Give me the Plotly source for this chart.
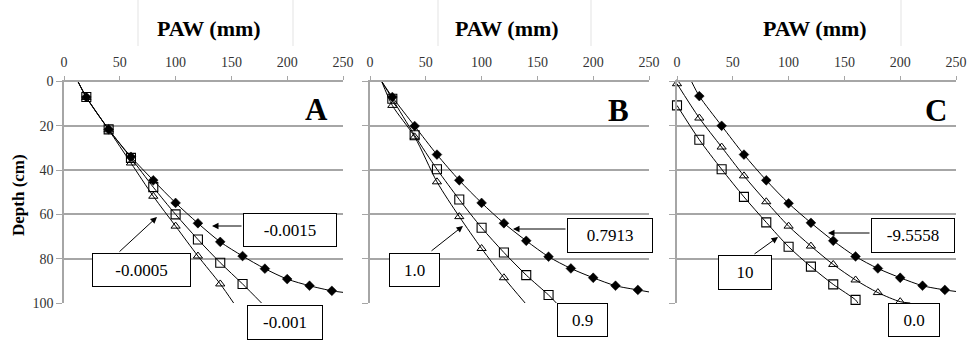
import plotly.graph_objects as go

W, H = 970, 341

# ---------------- data ----------------
depth_ticks = [0, 20, 40, 60, 80, 100]
paw_ticks = [0, 50, 100, 150, 200, 250]

# Panel A
A_dia_x = [20, 40, 60, 80, 100, 120, 140, 160, 180, 200, 220, 240]
A_dia_d = [7, 21.6, 34, 44.6, 54.8, 64, 72.4, 78.8, 84.5, 89.2, 92.2, 94.5]
A_sq_x = [20, 40, 60, 80, 100, 120, 140, 160]
A_sq_d = [7, 21.6, 34.5, 47.7, 60, 71.3, 81.8, 91.4]
A_tri_x = [20, 40, 60, 80, 100, 120, 140]
A_tri_d = [7.2, 21.8, 36.8, 51.8, 65.3, 78.8, 91.4]
A_start = (12.5, 0)
A_dia_end = (250, 95.2)
A_sq_end = (177, 100)
A_tri_end = (152, 100)

# Panel B
B_dia_x = [20, 40, 60, 80, 100, 120, 140, 160, 180, 200, 220, 240]
B_dia_d = [7, 20.1, 33, 44.6, 54.8, 64, 71.9, 79.1, 84.4, 88.6, 92.2, 94.1]
B_sq_x = [20, 40, 60, 80, 100, 120, 140, 160]
B_sq_d = [7.8, 24.3, 39.6, 53.3, 66, 77.2, 87.4, 96.4]
B_tri_x = [20, 40, 60, 80, 100, 120]
B_tri_d = [10.8, 25, 45.3, 61, 75.4, 88.6]
B_start = (10.5, 0)
B_dia_end = (250, 95)
B_sq_end = (167, 100)
B_tri_end = (139, 100)

# Panel C
C_dia_x = [20, 40, 60, 80, 100, 120, 140, 160, 180, 200, 220, 240]
C_dia_d = [6.6, 20, 33, 44.6, 55, 63.8, 71.9, 79, 84.4, 88.6, 92.2, 94.1]
C_tri_x = [0, 20, 40, 60, 80, 100, 120, 140, 160, 180, 200]
C_tri_d = [1, 16.5, 29.6, 42.6, 54.3, 65.3, 74.3, 82.6, 89.6, 95.3, 99.4]
C_sq_x = [0, 20, 40, 60, 80, 100, 120, 140, 160]
C_sq_d = [10.8, 26.3, 39.6, 52.1, 63.6, 74.6, 83.6, 91.6, 98.6]
C_dia_start = (13, 0)
C_dia_end = (250, 94.8)
C_tri_end = (209, 100)
C_sq_end = (162, 100)

panel_letters = ["A", "B", "C"]
labels_A = ["-0.0015", "-0.0005", "-0.001"]
labels_B = ["0.7913", "1.0", "0.9"]
labels_C = ["-9.5558", "10", "0.0"]

# ---------------- figure ----------------
SERIF = "Liberation Serif"
fig = go.Figure()

def add_series(xs, ds, start, end, sym, ax_id):
    xr = "x" if ax_id == 1 else f"x{ax_id}"
    yr = "y" if ax_id == 1 else f"y{ax_id}"
    lx = ([start[0]] if start else []) + list(xs) + [end[0]]
    ly = ([start[1]] if start else []) + list(ds) + [end[1]]
    fig.add_trace(go.Scatter(x=lx, y=ly, mode="lines", xaxis=xr, yaxis=yr,
                             line=dict(color="black", width=1, shape="spline", smoothing=0.8),
                             showlegend=False, hoverinfo="skip", cliponaxis=True))
    if sym == "diamond":
        mk = dict(symbol="diamond", size=7.5, color="black", line=dict(color="black", width=0.5))
    elif sym == "square":
        mk = dict(symbol="square-open", size=9, color="black", line=dict(width=1.1))
    else:
        mk = dict(symbol="triangle-up-open", size=8, color="black", line=dict(width=1))
    fig.add_trace(go.Scatter(x=xs, y=ds, mode="markers", xaxis=xr, yaxis=yr,
                             marker=mk, showlegend=False, cliponaxis=False))

add_series(A_tri_x, A_tri_d, A_start, A_tri_end, "triangle", 1)
add_series(A_sq_x, A_sq_d, A_start, A_sq_end, "square", 1)
add_series(A_dia_x, A_dia_d, A_start, A_dia_end, "diamond", 1)

add_series(B_tri_x, B_tri_d, B_start, B_tri_end, "triangle", 2)
add_series(B_sq_x, B_sq_d, B_start, B_sq_end, "square", 2)
add_series(B_dia_x, B_dia_d, B_start, B_dia_end, "diamond", 2)

add_series(C_tri_x, C_tri_d, None, C_tri_end, "triangle", 3)
add_series(C_sq_x, C_sq_d, None, C_sq_end, "square", 3)
add_series(C_dia_x, C_dia_d, C_dia_start, C_dia_end, "diamond", 3)

ytop = 1 - 81.5 / H
ybot = 1 - 303 / H
x_domains = [(64 / W, 343 / W), (370 / W, 649 / W), (677 / W, 956 / W)]
GRID = "#a6a6a6"

layout = dict(width=W, height=H, margin=dict(l=0, r=0, t=0, b=0, pad=0),
              template="none", font=dict(family=SERIF),
              paper_bgcolor="white", plot_bgcolor="white", showlegend=False)
for i, dom in enumerate(x_domains, start=1):
    sx = "" if i == 1 else str(i)
    layout[f"xaxis{sx}"] = dict(
        domain=list(dom), anchor=f"y{sx}", side="top", range=[0, 250],
        tickvals=paw_ticks, showgrid=False, zeroline=False, automargin=False,
        showline=True, linecolor=GRID, linewidth=1.5,
        ticks="outside", ticklen=4, tickcolor=GRID, tickwidth=1, ticklabelstandoff=3,
        tickfont=dict(family=SERIF, size=14, color="#333333"))
    layout[f"yaxis{sx}"] = dict(
        domain=[ybot, ytop], anchor=f"x{sx}", range=[100, 0], automargin=False,
        tickvals=depth_ticks, showgrid=True, gridcolor=GRID, gridwidth=1.5,
        zeroline=False, showline=True, linecolor=GRID, linewidth=1.5,
        ticks="outside", ticklen=6, tickcolor=GRID, tickwidth=1,
        showticklabels=(i == 1),
        tickfont=dict(family=SERIF, size=14, color="#333333"))
fig.update_layout(**layout)

ann = []
def px(x, y):
    return x / W, 1 - y / H

def centered(**kw):
    d = dict(xref="paper", yref="paper", xanchor="center", yanchor="middle")
    d.update(kw)
    return d

# titles
for cx in [209, 507, 815]:
    x, y = px(cx, 28)
    ann.append(centered(x=x, y=y, text="<b>PAW (mm)</b>", showarrow=False,
                        font=dict(family=SERIF, size=22, color="black")))
# y label
x, y = px(18, 195)
ann.append(centered(x=x, y=y, text="<b>Depth (cm)</b>", textangle=-90, showarrow=False,
                    font=dict(family=SERIF, size=17, color="black")))
# panel letters
for letter, (cx, cy) in zip(panel_letters, [(316, 110), (618, 111), (936, 111)]):
    x, y = px(cx, cy)
    ann.append(centered(x=x, y=y, text=f"<b>{letter}</b>", showarrow=False,
                        font=dict(family=SERIF, size=31, color="black")))

# label boxes (center x, center y, width, height)
boxes = [
    (labels_A[0], 290, 230, 94, 34), (labels_A[1], 141.5, 270, 99, 34), (labels_A[2], 285, 322.5, 76, 35),
    (labels_B[0], 610, 235.5, 86, 35), (labels_B[1], 414.5, 270, 51, 34), (labels_B[2], 582.5, 320, 51, 34),
    (labels_C[0], 913, 235.5, 84, 35), (labels_C[1], 745, 272.5, 54, 35), (labels_C[2], 914, 320, 52, 34),
]
for txt, cx, cy, bw, bh in boxes:
    x, y = px(cx, cy)
    ann.append(centered(x=x, y=y, text=txt, showarrow=False,
                        width=bw - 4, height=bh - 4, borderpad=1, bordercolor="black", borderwidth=1,
                        bgcolor="white", font=dict(family=SERIF, size=17, color="black")))

# arrows: head (x,y) and tail offset in pixels
arrows = [((212, 226), (31, 0)), ((157, 217), (-39, 36)),
          ((513, 229), (54, 0)), ((463, 226), (-33, 26)),
          ((828, 233), (43, 0)), ((778, 237), (-25, 18))]
for (hx, hy), (dx, dy) in arrows:
    x, y = px(hx, hy)
    ann.append(dict(x=x, y=y, xref="paper", yref="paper", text="", showarrow=True,
                    ax=dx, ay=dy, arrowhead=2, arrowsize=1.3, arrowwidth=1,
                    arrowcolor="black", standoff=0, startstandoff=0))
fig.update_layout(annotations=ann)

# faint vertical lines at the top
shapes = []
for vx in [138, 293, 438, 591, 901]:
    shapes.append(dict(type="line", xref="paper", yref="paper", x0=vx / W, x1=vx / W,
                       y0=1, y1=1 - 46 / H, line=dict(color="#e3e3e3", width=1)))
fig.update_layout(shapes=shapes)

fig.write_html("out.html")
